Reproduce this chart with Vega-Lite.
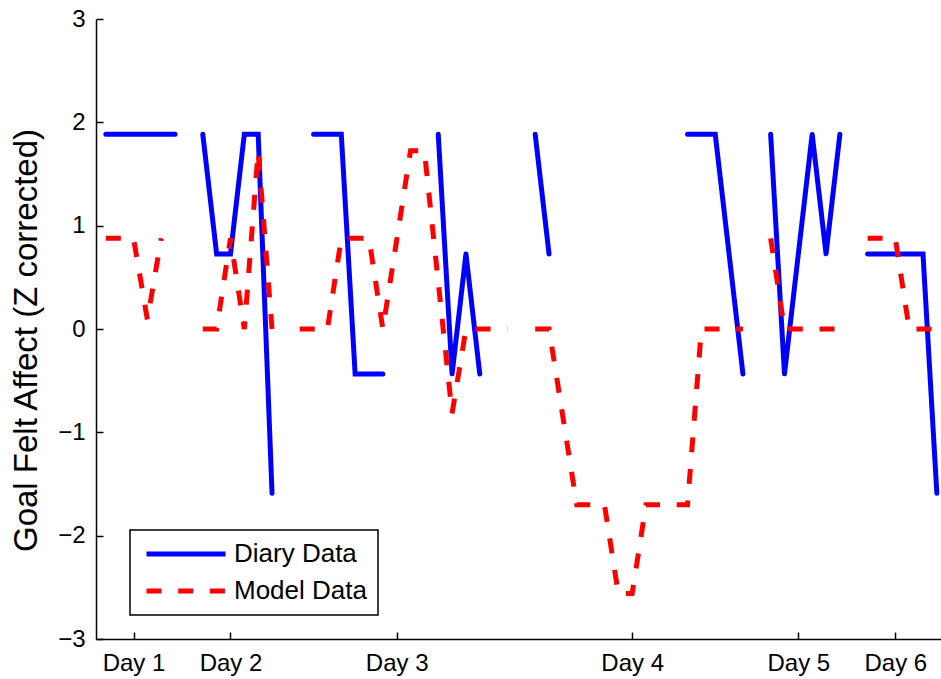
{
  "$schema": "https://vega.github.io/schema/vega-lite/v6.json",
  "width": 845,
  "height": 620,
  "autosize": "none",
  "padding": {"left": 96, "top": 19, "right": 0, "bottom": 40},
  "background": "#ffffff",
  "config": {
    "view": {"stroke": null},
    "axis": {
      "domainColor": "#000000",
      "domainWidth": 1.5,
      "tickColor": "#000000",
      "tickWidth": 1.5,
      "tickSize": -7,
      "labelColor": "#000000",
      "labelFont": "Liberation Sans",
      "labelFontSize": 24,
      "grid": false,
      "labelFlush": false,
      "labelOverlap": false,
      "titleColor": "#000000",
      "titleFont": "Liberation Sans",
      "titleFontWeight": "normal"
    },
    "legend": {
      "orient": "none",
      "legendX": 34,
      "legendY": 511,
      "symbolType": "M-3.95,0H3.95",
      "symbolSize": 400,
      "symbolStrokeWidth": 5,
      "symbolOffset": 32,
      "labelOffset": 35,
      "labelFont": "Liberation Sans",
      "labelFontSize": 26,
      "labelColor": "#000000",
      "padding": 11,
      "rowPadding": 11,
      "strokeColor": "#000000",
      "strokeWidth": 1.5,
      "fillColor": "#ffffff",
      "cornerRadius": 0
    }
  },
  "datasets": {
    "diary": [
      {"series": "Diary Data", "k": 0, "v": 1.885, "g": 1},
      {"series": "Diary Data", "k": 1, "v": 1.885, "g": 1},
      {"series": "Diary Data", "k": 2, "v": 1.885, "g": 1},
      {"series": "Diary Data", "k": 3, "v": 1.885, "g": 1},
      {"series": "Diary Data", "k": 4, "v": 1.885, "g": 1},
      {"series": "Diary Data", "k": 5, "v": 1.885, "g": 1},
      {"series": "Diary Data", "k": 7, "v": 1.885, "g": 2},
      {"series": "Diary Data", "k": 8, "v": 0.726, "g": 2},
      {"series": "Diary Data", "k": 9, "v": 0.726, "g": 2},
      {"series": "Diary Data", "k": 10, "v": 1.885, "g": 2},
      {"series": "Diary Data", "k": 11, "v": 1.885, "g": 2},
      {"series": "Diary Data", "k": 12, "v": -1.59, "g": 2},
      {"series": "Diary Data", "k": 15, "v": 1.885, "g": 3},
      {"series": "Diary Data", "k": 16, "v": 1.885, "g": 3},
      {"series": "Diary Data", "k": 17, "v": 1.885, "g": 3},
      {"series": "Diary Data", "k": 18, "v": -0.436, "g": 3},
      {"series": "Diary Data", "k": 19, "v": -0.436, "g": 3},
      {"series": "Diary Data", "k": 20, "v": -0.436, "g": 3},
      {"series": "Diary Data", "k": 24, "v": 1.885, "g": 4},
      {"series": "Diary Data", "k": 25, "v": -0.436, "g": 4},
      {"series": "Diary Data", "k": 26, "v": 0.726, "g": 4},
      {"series": "Diary Data", "k": 27, "v": -0.436, "g": 4},
      {"series": "Diary Data", "k": 31, "v": 1.885, "g": 5},
      {"series": "Diary Data", "k": 32, "v": 0.726, "g": 5},
      {"series": "Diary Data", "k": 42, "v": 1.885, "g": 6},
      {"series": "Diary Data", "k": 43, "v": 1.885, "g": 6},
      {"series": "Diary Data", "k": 44, "v": 1.885, "g": 6},
      {"series": "Diary Data", "k": 45, "v": 0.726, "g": 6},
      {"series": "Diary Data", "k": 46, "v": -0.436, "g": 6},
      {"series": "Diary Data", "k": 48, "v": 1.885, "g": 7},
      {"series": "Diary Data", "k": 49, "v": -0.436, "g": 7},
      {"series": "Diary Data", "k": 50, "v": 0.726, "g": 7},
      {"series": "Diary Data", "k": 51, "v": 1.885, "g": 7},
      {"series": "Diary Data", "k": 52, "v": 0.726, "g": 7},
      {"series": "Diary Data", "k": 53, "v": 1.885, "g": 7},
      {"series": "Diary Data", "k": 55, "v": 0.726, "g": 8},
      {"series": "Diary Data", "k": 56, "v": 0.726, "g": 8},
      {"series": "Diary Data", "k": 57, "v": 0.726, "g": 8},
      {"series": "Diary Data", "k": 58, "v": 0.726, "g": 8},
      {"series": "Diary Data", "k": 59, "v": 0.726, "g": 8},
      {"series": "Diary Data", "k": 60, "v": -1.59, "g": 8}
    ],
    "model": [
      {"series": "Model Data", "k": 0, "v": 0.878, "g": 1},
      {"series": "Model Data", "k": 1, "v": 0.878, "g": 1},
      {"series": "Model Data", "k": 2, "v": 0.878, "g": 1},
      {"series": "Model Data", "k": 3, "v": 0.09, "g": 1},
      {"series": "Model Data", "k": 4, "v": 0.878, "g": 1},
      {"series": "Model Data", "k": 7, "v": 0, "g": 2},
      {"series": "Model Data", "k": 8, "v": 0, "g": 2},
      {"series": "Model Data", "k": 9, "v": 0.878, "g": 2},
      {"series": "Model Data", "k": 10, "v": 0, "g": 2},
      {"series": "Model Data", "k": 11, "v": 1.72, "g": 2},
      {"series": "Model Data", "k": 12, "v": 0, "g": 2},
      {"series": "Model Data", "k": 14, "v": 0, "g": 3},
      {"series": "Model Data", "k": 15, "v": 0, "g": 3},
      {"series": "Model Data", "k": 16, "v": 0, "g": 3},
      {"series": "Model Data", "k": 17, "v": 0.878, "g": 3},
      {"series": "Model Data", "k": 18, "v": 0.878, "g": 3},
      {"series": "Model Data", "k": 19, "v": 0.878, "g": 3},
      {"series": "Model Data", "k": 20, "v": 0, "g": 3},
      {"series": "Model Data", "k": 21, "v": 0.86, "g": 3},
      {"series": "Model Data", "k": 22, "v": 1.726, "g": 3},
      {"series": "Model Data", "k": 23, "v": 1.726, "g": 3},
      {"series": "Model Data", "k": 24, "v": 0.455, "g": 3},
      {"series": "Model Data", "k": 25, "v": -0.816, "g": 3},
      {"series": "Model Data", "k": 26, "v": 0, "g": 3},
      {"series": "Model Data", "k": 27, "v": 0, "g": 3},
      {"series": "Model Data", "k": 28, "v": 0, "g": 3},
      {"series": "Model Data", "k": 29, "v": 0, "g": 3},
      {"series": "Model Data", "k": 31, "v": 0, "g": 4},
      {"series": "Model Data", "k": 32, "v": 0, "g": 4},
      {"series": "Model Data", "k": 33, "v": -0.85, "g": 4},
      {"series": "Model Data", "k": 34, "v": -1.7, "g": 4},
      {"series": "Model Data", "k": 35, "v": -1.7, "g": 4},
      {"series": "Model Data", "k": 36, "v": -1.7, "g": 4},
      {"series": "Model Data", "k": 37, "v": -2.56, "g": 4},
      {"series": "Model Data", "k": 38, "v": -2.56, "g": 4},
      {"series": "Model Data", "k": 39, "v": -1.7, "g": 4},
      {"series": "Model Data", "k": 40, "v": -1.7, "g": 4},
      {"series": "Model Data", "k": 41, "v": -1.7, "g": 4},
      {"series": "Model Data", "k": 42, "v": -1.7, "g": 4},
      {"series": "Model Data", "k": 43, "v": 0, "g": 4},
      {"series": "Model Data", "k": 44, "v": 0, "g": 4},
      {"series": "Model Data", "k": 45, "v": 0, "g": 4},
      {"series": "Model Data", "k": 46, "v": 0, "g": 4},
      {"series": "Model Data", "k": 48, "v": 0.878, "g": 5},
      {"series": "Model Data", "k": 49, "v": 0, "g": 5},
      {"series": "Model Data", "k": 50, "v": 0, "g": 5},
      {"series": "Model Data", "k": 51, "v": 0, "g": 5},
      {"series": "Model Data", "k": 52, "v": 0, "g": 5},
      {"series": "Model Data", "k": 53, "v": 0, "g": 5},
      {"series": "Model Data", "k": 55, "v": 0.878, "g": 6},
      {"series": "Model Data", "k": 56, "v": 0.878, "g": 6},
      {"series": "Model Data", "k": 57, "v": 0.878, "g": 6},
      {"series": "Model Data", "k": 58, "v": 0, "g": 6},
      {"series": "Model Data", "k": 59, "v": 0, "g": 6},
      {"series": "Model Data", "k": 60, "v": 0, "g": 6}
    ]
  },
  "encoding": {
    "x": {
      "field": "k",
      "type": "quantitative",
      "scale": {"domain": [-0.71, 60.3], "nice": false, "zero": false},
      "axis": {
        "title": null,
        "values": [2, 9, 21, 38, 50, 57],
        "labelPadding": 19,
        "labelExpr": "datum.value == 2 ? 'Day 1' : datum.value == 9 ? 'Day 2' : datum.value == 21 ? 'Day 3' : datum.value == 38 ? 'Day 4' : datum.value == 50 ? 'Day 5' : 'Day 6'"
      }
    },
    "y": {
      "field": "v",
      "type": "quantitative",
      "scale": {"domain": [-3, 3], "nice": false, "zero": false},
      "axis": {
        "title": "Goal Felt Affect (Z corrected)",
        "values": [-3, -2, -1, 0, 1, 2, 3],
        "labelPadding": 18,
        "titleFontSize": 33,
        "titleX": -70,
        "titleY": 321,
        "titleAlign": "center",
        "titleBaseline": "middle",
        "titleAngle": -90
      }
    },
    "color": {
      "field": "series",
      "type": "nominal",
      "scale": {"domain": ["Diary Data", "Model Data"], "range": ["#0000ff", "#ff0000"]},
      "legend": {"title": null}
    },
    "strokeDash": {
      "field": "series",
      "type": "nominal",
      "scale": {"domain": ["Diary Data", "Model Data"], "range": [[1, 0], [15, 16.7]]},
      "legend": {"title": null}
    },
    "detail": {"field": "g", "type": "nominal"}
  },
  "layer": [
    {
      "data": {"name": "diary"},
      "mark": {"type": "line", "strokeWidth": 5, "strokeCap": "round", "strokeJoin": "miter", "clip": true}
    },
    {
      "data": {"name": "model"},
      "mark": {"type": "line", "strokeWidth": 5, "strokeCap": "butt", "strokeJoin": "miter", "clip": true}
    }
  ]
}
